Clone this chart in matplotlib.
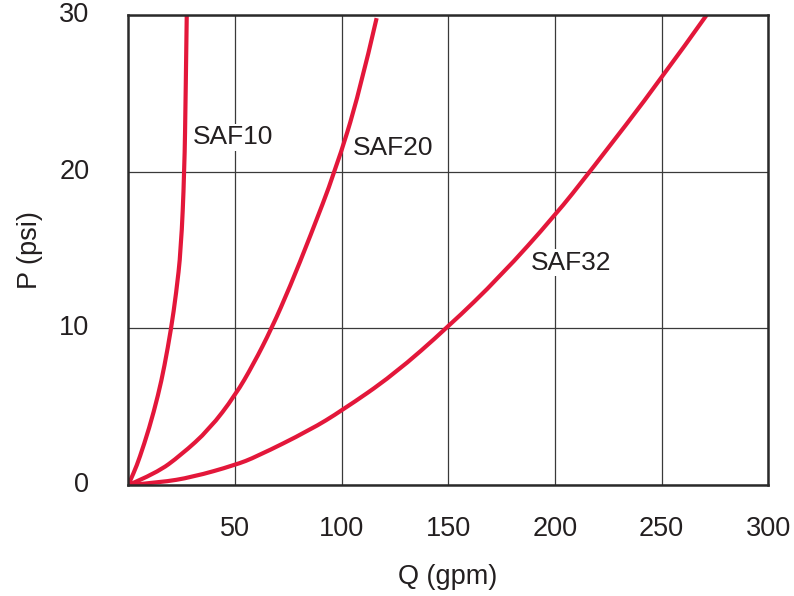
import matplotlib
matplotlib.use("Agg")
import matplotlib.pyplot as plt
from matplotlib.path import Path
from matplotlib.patches import PathPatch

# Data: flow Q (gpm) vs pressure drop P (psi)
saf10_q = [0, 2.8, 5.2, 9.8, 14.0, 16.9, 20.1, 22.4, 24.7, 26.3, 26.9, 27.4]
saf10_p = [0, 0.85, 1.7, 3.62, 5.74, 7.55, 10, 12.2, 15, 20, 25, 30]

saf20_q = [0, 13, 24.7, 38, 50.2, 58.6, 67.2, 75.8, 85.2, 96.9, 108.3, 116.4]
saf20_p = [0, 0.74, 1.91, 3.55, 5.74, 7.7, 10, 12.66, 15.85, 20, 25, 29.8]

saf32_q = [0, 15, 30, 50, 60, 85.2, 100, 124.2, 150, 174.3, 200, 216.4, 250, 271.1]
saf32_p = [0, 0.16, 0.5, 1.27, 1.8, 3.51, 4.74, 7.02, 10.1, 13.3, 17.2, 20, 25.95, 30]

series_names = ["SAF10", "SAF20", "SAF32"]
label_pos = [(30.3, 22.2), (105.4, 21.5), (188.6, 14.2)]

x_ticks = [50, 100, 150, 200, 250, 300]
y_ticks = [0, 10, 20, 30]

plt.rcParams['font.family'] = ['Liberation Sans', 'DejaVu Sans']


def smooth_path(xs, ys):
    """Quadratic B-spline style path: data points act as control points,
    passes through the first and last point and midpoints between."""
    pts = list(zip(xs, ys))
    verts = [pts[0]]
    codes = [Path.MOVETO]
    for i in range(1, len(pts) - 1):
        c = pts[i]
        if i < len(pts) - 2:
            e = ((pts[i][0] + pts[i + 1][0]) / 2, (pts[i][1] + pts[i + 1][1]) / 2)
        else:
            e = pts[i + 1]
        verts += [c, e]
        codes += [Path.CURVE3, Path.CURVE3]
    return Path(verts, codes)


W, H = 794, 596
fig = plt.figure(figsize=(W / 100, H / 100), dpi=100)
L, R, B, T = 128.3, 768.3, 485, 15
ax = fig.add_axes([L / W, 1 - B / H, (R - L) / W, (B - T) / H])

ax.set_xlim(0, 300)
ax.set_ylim(0, 30)

red = "#E3173A"
for q, p in [(saf10_q, saf10_p), (saf20_q, saf20_p), (saf32_q, saf32_p)]:
    patch = PathPatch(smooth_path(q, p), facecolor="none", edgecolor=red,
                      lw=3.0, capstyle='butt', zorder=3, transform=ax.transData)
    ax.add_patch(patch)

for name, (x, y) in zip(series_names, label_pos):
    ax.text(x, y, name, fontsize=19, color="#231f20", ha="left", va="center",
            bbox=dict(facecolor="white", edgecolor="none", pad=1.0), zorder=2)

ax.set_xticks(x_ticks)
ax.set_yticks(y_ticks)
ax.grid(True, color="#3a3a3a", lw=0.9, zorder=1)
ax.set_axisbelow(True)
ax.tick_params(length=0, labelsize=19.5, colors="#231f20")
ax.tick_params(axis='y', pad=28)
ax.tick_params(axis='x', pad=22)
for lab in ax.get_yticklabels():
    lab.set_verticalalignment('center')
for s in ax.spines.values():
    s.set_color("#2a2a2a")
    s.set_linewidth(1.8)
    s.set_zorder(4)

fig.text(448 / W, 1 - 577 / H, "Q (gpm)", fontsize=19.5, ha="center", va="center", color="#231f20")
fig.text(30 / W, 1 - 250 / H, "P (psi)", fontsize=19.5, ha="center", va="center",
         rotation=90, color="#231f20")

fig.savefig("out.png", dpi=100)
